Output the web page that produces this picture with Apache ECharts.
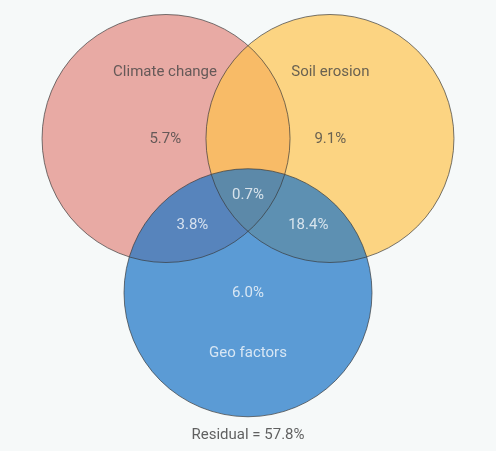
<!DOCTYPE html>
<html>
<head>
<meta charset="utf-8">
<script src="https://cdn.jsdelivr.net/npm/echarts@6/dist/echarts.min.js"></script>
<style>
    html, body { margin: 0; padding: 0; background: #f6f9f9; }
    #venn { width: 496px; height: 451px; }
</style>
</head>
<body>
<div id="venn"></div>
<script>
// sets: layout in radius units (every circle has radius 1)
var setNames = ['Climate change', 'Soil erosion', 'Geo factors'];
var setX = [-0.661, 0.661, 0];
var setY = [0, 0, -1.244];
var setR = [1, 1, 1];

// share of each region (percent); Climate/Soil-only overlap has no label
var regionKeys = ['A', 'B', 'C', 'AC', 'BC', 'ABC'];
var regionValues = [5.7, 9.1, 6.0, 3.8, 18.4, 0.7];
var regionX = [-0.667, 0.664, 0, -0.448, 0.486, 0];
var regionY = [-0.004, -0.004, -1.25, -0.698, -0.698, -0.456];

// where the set names sit
var nameX = [-0.669, 0.664, 0];
var nameY = [0.532, 0.532, -1.733];

var residual = 57.8;
var residualX = 0;
var residualY = -2.39;

var fills = ['#e8aaa4', 'rgba(255,194,74,0.68)', 'rgba(25,115,198,0.7)'];
var darkText = '#454545';
var lightText = '#f6f9fb';

var chart = echarts.init(document.getElementById('venn'));

var circleData = setNames.map((n, i) => ({ name: n, value: [setX[i], setY[i], setR[i]] }));

var circleFill = function (params, api) {
    var c = api.coord([api.value(0), api.value(1)]);
    var r = api.size([api.value(2), 0])[0];
    return {
        type: 'circle',
        shape: { cx: c[0], cy: c[1], r: r },
        style: { fill: fills[params.dataIndex], stroke: null }
    };
};
// outlines go in a second pass so every arc stays visible over the fills
var circleLine = function (params, api) {
    var c = api.coord([api.value(0), api.value(1)]);
    var r = api.size([api.value(2), 0])[0];
    return {
        type: 'circle',
        shape: { cx: c[0], cy: c[1], r: r },
        style: { fill: null, stroke: 'rgba(55,55,55,0.85)', lineWidth: 0.8 }
    };
};

var labelData = [];
regionKeys.forEach((k, i) => {
    labelData.push({
        name: regionValues[i].toFixed(1) + '%',
        value: [regionX[i], regionY[i]],
        label: { color: (k == 'A' || k == 'B') ? darkText : lightText }
    });
});
setNames.forEach((n, i) => {
    labelData.push({
        name: n,
        value: [nameX[i], nameY[i]],
        label: { color: i < 2 ? darkText : lightText }
    });
});
labelData.push({
    name: 'Residual = ' + residual.toFixed(1) + '%',
    value: [residualX, residualY],
    label: { color: '#3a3a3a' }
});

var option = {
    backgroundColor: '#f6f9f9',
    animation: false,
    grid: { left: 0, right: 0, top: 14.5, height: 434 },
    xAxis: { type: 'value', min: -2, max: 2, show: false },
    yAxis: { type: 'value', min: -2.5, max: 1, show: false },
    series: [
        { type: 'custom', renderItem: circleFill, data: circleData, silent: true },
        { type: 'custom', renderItem: circleLine, data: circleData, silent: true },
        {
            type: 'scatter',
            symbolSize: 0,
            data: labelData,
            label: {
                show: true,
                position: 'inside',
                formatter: '{b}',
                fontFamily: 'Roboto',
                fontSize: 15
            },
            silent: true
        }
    ]
};
chart.setOption(option, true);
</script>
</body>
</html>
